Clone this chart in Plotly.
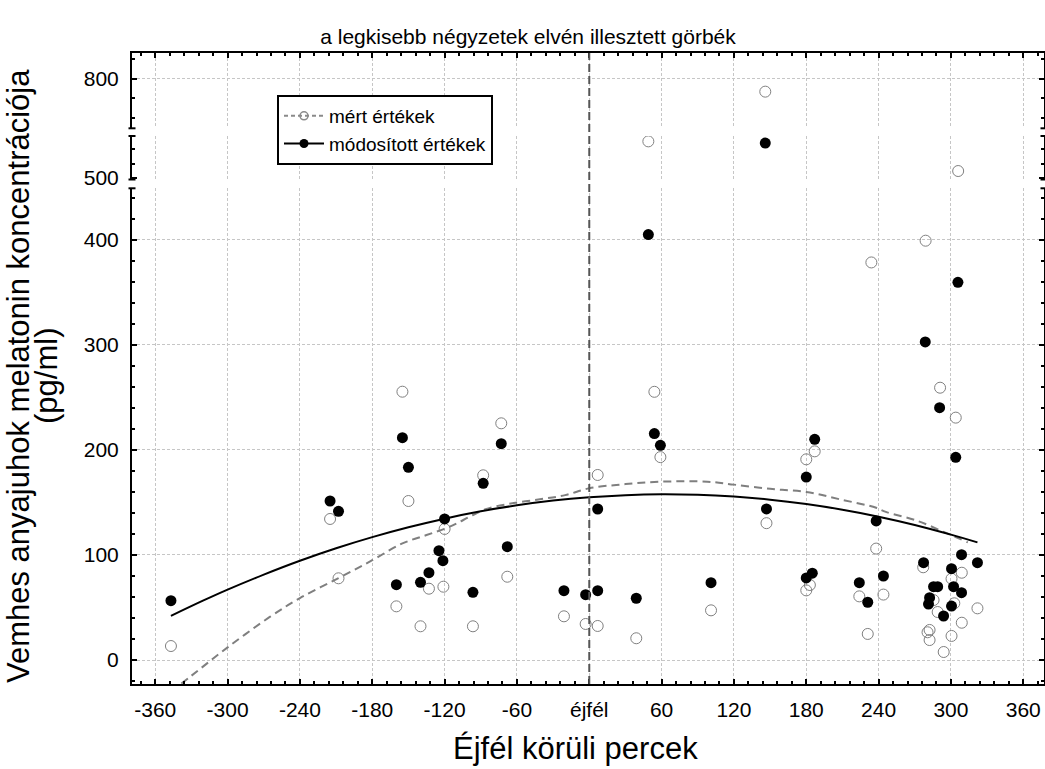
import plotly.graph_objects as go

# ---------------- data ----------------
# measured values (open grey circles): minutes around midnight, pg/ml
mert_perc = [-347, -215, -208, -155, -150, -160, -140, -133, -120, -121, -96.5, -88, -73, -68,
             7, -21, -3, 7, 39, 101,
             234, 54, 59, 187, 180, 147, 238, 183, 180, 224, 244, 231,
             49, 146, 306,
             291, 304, 277, 309, 300.5, 322, 285.6, 302.8, 289, 309, 282.3, 280.6, 282.3, 300.5, 294, 279]
mert_ertek = [13.3, 134.3, 77.8, 255.5, 151.4, 51.1, 32.1, 67.9, 124.8, 69.8, 32.1, 175.9, 225.4, 79.3,
              176.2, 41.6, 34.3, 32.4, 20.7, 47.3,
              378.6, 255.4, 193.2, 198.7, 191.1, 130.3, 106.1, 71.4, 66.3, 60.6, 62.3, 24.8,
              550.6, 786.8, 509.7,
              259.3, 230.8, 88.3, 83.1, 77.4, 49.2, 57.1, 54.0, 45.7, 35.5, 28.6, 26.4, 19.0, 22.9, 7.6, 399.3]

# modified values (filled black circles)
mod_perc = [-347, -215, -208, -155, -150, -160, -140, -133, -124.7, -121.4, -120, -96.5, -88, -73, -68,
            7, -21, -3, 7, 39, 101,
            49, 54, 59, 187, 180, 147, 238, 180, 185, 224, 231, 244,
            146,
            278.7, 290.6, 304, 277.3, 308.8, 322, 300.5, 285.6, 289, 302.2, 308.8, 282.3, 281.4, 300.5, 293.9, 305.8]
mod_ertek = [56.5, 151.4, 141.6, 211.7, 183.5, 71.7, 74.0, 83.1, 104.1, 94.6, 134.3, 64.5, 168.3, 206.0, 107.9,
             143.8, 66.0, 62.2, 66.0, 58.8, 73.6,
             405.1, 215.6, 204.4, 210.2, 174.2, 143.9, 132.4, 78.2, 82.7, 73.6, 55.0, 80.0,
             548.3,
             302.9, 240.3, 193.0, 92.7, 100.3, 92.7, 87.0, 69.8, 69.8, 69.8, 64.1, 59.3, 53.3, 51.4, 41.9, 359.7]

# least-squares fitted curves
gorbe_mert_perc = [-347, -330, -300, -265, -240, -208, -180, -155, -135, -120, -110, -100, -86, -65,
                   -41, -20, 0, 28, 59, 98, 120, 150, 180, 208, 238, 246, 271, 296, 314]
gorbe_mert = [-30, -15, 12, 41, 59, 78, 95, 111, 119, 125, 130, 136, 143.5, 149,
              153, 157, 163.5, 167.3, 169.8, 169.8, 167, 163, 160, 153, 145, 141, 133, 121, 112]

gorbe_mod_perc = [-347, -320, -300, -270, -240, -210, -180, -150, -120, -90, -60, -30, 0,
                  30, 60, 90, 120, 150, 180, 210, 240, 270, 300, 322]
gorbe_mod = [42, 56.7, 67, 81.3, 94.5, 106.4, 117, 126.4, 134.6, 141.6, 147.3, 151.8, 155,
             157, 157.8, 157.3, 155.6, 152.7, 148.5, 143.1, 136.5, 128.6, 119.4, 112]

x_tickvals = [-360, -300, -240, -180, -120, -60, 0, 60, 120, 180, 240, 300, 360]
x_ticktext = ['-360', '-300', '-240', '-180', '-120', '-60', 'éjfél', '60', '120', '180', '240', '300', '360']

# broken y axis: three segments
seg_also = (-22.86, 449.2)     # lower segment range
seg_kozep = (498.0, 558.0)     # middle segment range
seg_felso = (750.0, 825.6)     # upper segment range
EJFEL = 0

FONT = "Liberation Sans, Arial, sans-serif"
GRID = "#c6c6c6"


def split(xs, ys):
    out = {"y": ([], []), "y2": ([], []), "y3": ([], [])}
    for x, y in zip(xs, ys):
        if y <= seg_also[1]:
            k = "y"
        elif y <= seg_kozep[1]:
            k = "y2"
        else:
            k = "y3"
        out[k][0].append(x)
        out[k][1].append(y)
    return out


xmap = {"y": "x", "y2": "x3", "y3": "x2"}
fig = go.Figure()

# fitted curves (lower segment)
fig.add_trace(go.Scatter(x=gorbe_mert_perc, y=gorbe_mert, mode="lines", line=dict(color="#7f7f7f", width=2, dash="8px,5px"),
                         line_shape="spline", showlegend=False, xaxis="x", yaxis="y", hoverinfo="skip"))
fig.add_trace(go.Scatter(x=gorbe_mod_perc, y=gorbe_mod, mode="lines", line=dict(color="black", width=2),
                         line_shape="spline", showlegend=False, xaxis="x", yaxis="y", hoverinfo="skip"))

sm = split(mert_perc, mert_ertek)
sf = split(mod_perc, mod_ertek)
for k in ["y", "y2", "y3"]:
    if sm[k][0]:
        fig.add_trace(go.Scatter(x=sm[k][0], y=sm[k][1], mode="markers", xaxis=xmap[k], yaxis=k, showlegend=False,
                                 marker=dict(symbol="circle", size=11, color="rgba(255,255,255,0)",
                                             line=dict(color="#808080", width=1))))
for k in ["y", "y2", "y3"]:
    if sf[k][0]:
        fig.add_trace(go.Scatter(x=sf[k][0], y=sf[k][1], mode="markers", xaxis=xmap[k], yaxis=k, showlegend=False,
                                 marker=dict(symbol="circle", size=11, color="black", line=dict(width=0))))

# legend entries
fig.add_trace(go.Scatter(x=[None], y=[None], mode="lines+markers", name="mért értékek",
                         line=dict(color="#8a8a8a", width=2, dash="4px,3px"),
                         marker=dict(symbol="circle-open", size=8, color="#8a8a8a", line=dict(width=1.5))))
fig.add_trace(go.Scatter(x=[None], y=[None], mode="lines+markers", name="módosított értékek",
                         line=dict(color="black", width=2),
                         marker=dict(symbol="circle", size=9, color="black")))

L, R, T, B = 132, 1, 53, 85
H = 769 - T - B
W = 1045 - L - R
d_low = (0, (684 - 188.3) / H)
d_mid = ((684 - 179.5) / H, (684 - 136) / H)
d_top = ((684 - 128.3) / H, 1)

TICKFONT = dict(size=21, color="black", family=FONT)
xcommon = dict(tickvals=x_tickvals, ticktext=x_ticktext, showgrid=True, gridcolor=GRID, griddash="3px,2px",
               gridwidth=1, zeroline=False, automargin=False)
yax_common = dict(showline=True, linecolor="black", linewidth=2, mirror="ticks", ticks="inside", ticklen=5,
                  tickwidth=1.5, tickcolor="black", zeroline=False, tickfont=TICKFONT,
                  ticklabelstandoff=7, automargin=False)

fig.update_layout(
    width=1045, height=769, margin=dict(l=L, r=R, t=T, b=B, autoexpand=False), plot_bgcolor="white",
    paper_bgcolor="white", font=dict(family=FONT, color="black"),
    xaxis=dict(**xcommon, range=[-379.3, 377.2], anchor="y", showline=True, linecolor="black", linewidth=2,
               ticks="inside", ticklen=5, tickwidth=1.5, tickcolor="black",
               minor=dict(ticks="inside", ticklen=3, tickmode="linear", tick0=0, dtick=12, tickcolor="black", showgrid=False),
               tickfont=TICKFONT, ticklabelstandoff=6),
    xaxis2=dict(**xcommon, matches="x", anchor="y3", side="top", showline=True, linecolor="black", linewidth=2,
                ticks="inside", ticklen=5, tickwidth=1.5, tickcolor="black", showticklabels=False,
                minor=dict(ticks="inside", ticklen=3, tickmode="linear", tick0=0, dtick=12, tickcolor="black", showgrid=False)),
    xaxis3=dict(**xcommon, matches="x", anchor="y2", showline=False, ticks="", showticklabels=False),
    yaxis=dict(**yax_common, domain=d_low, range=list(seg_also), anchor="x", tickvals=[0, 100, 200, 300, 400],
               showgrid=True, gridcolor=GRID, griddash="3px,2px",
               minor=dict(ticks="inside", ticklen=3, tickmode="linear", tick0=0, dtick=20, tickcolor="black", showgrid=False)),
    yaxis2=dict(**yax_common, domain=d_mid, range=list(seg_kozep), anchor="x3", tickvals=[500], showgrid=False,
                minor=dict(ticks="inside", ticklen=3, tickmode="linear", tick0=500, dtick=20, tickcolor="black", showgrid=False)),
    yaxis3=dict(**yax_common, domain=d_top, range=list(seg_felso), anchor="x2", tickvals=[800],
                showgrid=True, gridcolor=GRID, griddash="3px,2px",
                minor=dict(ticks="inside", ticklen=3, tickmode="linear", tick0=800, dtick=20, tickcolor="black", showgrid=False)),
    legend=dict(x=(277 - L) / W, y=(684 - 95) / H, xanchor="left", yanchor="top", bgcolor="white",
                bordercolor="black", borderwidth=2, font=dict(size=19, family=FONT, color="black"),
                tracegroupgap=0, itemwidth=40),
    title=dict(text="a legkisebb négyzetek elvén illesztett görbék", x=528 / 1045, xref="container", xanchor="center",
               y=1 - 37 / 769, yref="container", yanchor="middle", font=dict(size=21, family=FONT, color="black")),
    showlegend=True,
)

# axis titles
fig.add_annotation(text="Éjfél körüli percek", xref="paper", yref="paper", x=(575 - L) / W, y=(684 - 748) / H,
                   showarrow=False, xanchor="center", yanchor="middle", font=dict(size=31, family=FONT, color="black"))
fig.add_annotation(text="Vemhes anyajuhok melatonin koncentrációja", xref="paper", yref="paper",
                   x=(18 - L) / W, y=(684 - 376) / H, showarrow=False, textangle=-90, xanchor="center",
                   yanchor="middle", font=dict(size=31, family=FONT, color="black"))
fig.add_annotation(text="(pg/ml)", xref="paper", yref="paper",
                   x=(46 - L) / W, y=(684 - 376) / H, showarrow=False, textangle=-90, xanchor="center",
                   yanchor="middle", font=dict(size=31, family=FONT, color="black"))

# midnight reference line
fig.add_shape(type="line", xref="x", yref="paper", x0=EJFEL, x1=EJFEL, y0=0, y1=1,
              line=dict(color="#555555", width=2, dash="8px,4px"))

# axis-break caps on the left and right axis lines
cw = 3.5 / W
for yy in [d_low[1], d_mid[0], d_mid[1], d_top[0]]:
    for xx in [0, 1]:
        fig.add_shape(type="line", xref="paper", yref="paper", x0=xx - cw, x1=xx + cw, y0=yy, y1=yy,
                      line=dict(color="black", width=2))

fig.write_html("out.html", config={"displayModeBar": False},
               post_script="document.body.style.margin='0';document.body.style.overflow='hidden';")
